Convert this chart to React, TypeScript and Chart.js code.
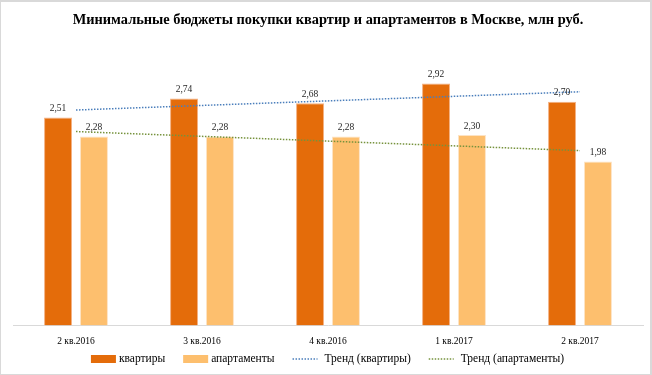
import React, { useEffect, useRef } from "react";
import { Chart, registerables } from "chart.js";

Chart.register(...registerables);

const categories = ["2 кв.2016", "3 кв.2016", "4 кв.2016", "1 кв.2017", "2 кв.2017"];
const flats = [2.51, 2.74, 2.68, 2.92, 2.7];
const apartments = [2.28, 2.28, 2.28, 2.3, 1.98];
// trend line end points
const trendFlats = [2.6, null, null, null, 2.82];
const trendApartments = [2.34, null, null, null, 2.11];

const TITLE = "Минимальные бюджеты покупки квартир и апартаментов в Москве, млн руб.";
const FONT = "'Liberation Serif', 'Times New Roman', serif";
const DOT = [1.5, 1.5];

const valueLabels = {
  id: "valueLabels",
  afterDatasetsDraw(chart: any) {
    const ctx = chart.ctx;
    ctx.save();
    ctx.font = `9.5px ${FONT}`;
    ctx.fillStyle = "#262626";
    ctx.textAlign = "center";
    ctx.textBaseline = "bottom";
    [0, 1].forEach((di) => {
      const meta = chart.getDatasetMeta(di);
      const data = chart.data.datasets[di].data as number[];
      meta.data.forEach((el: any, i: number) => {
        ctx.fillText(data[i].toFixed(2).replace(".", ","), el.x, el.y - 4);
      });
    });
    ctx.restore();
  },
};

const bottomLegend = {
  id: "bottomLegend",
  afterDraw(chart: any) {
    const ctx = chart.ctx;
    ctx.save();
    ctx.font = `11.5px ${FONT}`;
    ctx.textBaseline = "middle";
    ctx.textAlign = "left";
    const ds = chart.data.datasets;
    const items = ds.map((d: any) => {
      const isLine = d.type === "line";
      const gap = isLine ? 7 : 3;
      const tw = ctx.measureText(d.label).width;
      return { d, isLine, gap, tw, w: 25 + gap + tw };
    });
    const spacing = 18;
    const total = items.reduce((s: number, it: any) => s + it.w, 0) + spacing * (items.length - 1);
    let x = (chart.width - total) / 2 + 2;
    const y = chart.height - 15;
    items.forEach((it: any) => {
      if (it.isLine) {
        ctx.strokeStyle = it.d.borderColor;
        ctx.lineWidth = 1.5;
        ctx.setLineDash(DOT);
        ctx.beginPath();
        ctx.moveTo(x, y);
        ctx.lineTo(x + 25, y);
        ctx.stroke();
        ctx.setLineDash([]);
      } else {
        ctx.fillStyle = it.d.backgroundColor;
        ctx.fillRect(x, y - 4, 25, 8);
      }
      ctx.fillStyle = "#000000";
      ctx.fillText(it.d.label, x + 25 + it.gap, y);
      x += it.w + spacing;
    });
    ctx.restore();
  },
};

export default function App() {
  const ref = useRef<HTMLCanvasElement>(null);
  useEffect(() => {
    if (!ref.current) return;
    const chart = new Chart(ref.current, {
      type: "bar",
      data: {
        labels: categories,
        datasets: [
          {
            label: "квартиры",
            data: flats,
            backgroundColor: "#E46C0A",
            borderColor: "#F4B183",
            borderWidth: 1,
            categoryPercentage: 0.57,
            barPercentage: 0.78,
            order: 2,
          },
          {
            label: "апартаменты",
            data: apartments,
            backgroundColor: "#FDBF6E",
            borderColor: "#FDE3C4",
            borderWidth: 1,
            categoryPercentage: 0.57,
            barPercentage: 0.78,
            order: 2,
          },
          {
            type: "line",
            label: "Тренд (квартиры)",
            data: trendFlats as any,
            borderColor: "#4A7EBB",
            backgroundColor: "#4A7EBB",
            borderWidth: 1.5,
            borderDash: DOT,
            pointRadius: 0,
            spanGaps: true,
            order: 1,
          } as any,
          {
            type: "line",
            label: "Тренд (апартаменты)",
            data: trendApartments as any,
            borderColor: "#76923C",
            backgroundColor: "#76923C",
            borderWidth: 1.5,
            borderDash: DOT,
            pointRadius: 0,
            spanGaps: true,
            order: 1,
          } as any,
        ],
      },
      options: {
        animation: false,
        responsive: true,
        maintainAspectRatio: false,
        layout: { padding: { left: 12, right: 7, top: 0, bottom: 17 } },
        plugins: {
          title: {
            display: true,
            text: TITLE,
            color: "#000000",
            font: { family: FONT, size: 14.4, weight: "bold" },
            padding: { top: 9.5, bottom: 6.6 },
          },
          legend: { display: false },
          tooltip: { enabled: false },
        },
        scales: {
          x: {
            grid: { display: false, drawTicks: false },
            border: { display: true, color: "#D9D9D9", width: 1 },
            ticks: { color: "#000000", font: { family: FONT, size: 9.5 }, padding: 10 },
          },
          y: {
            min: 0,
            max: 3.5,
            display: false,
          },
        },
      },
      plugins: [valueLabels, bottomLegend],
    });
    return () => chart.destroy();
  }, []);
  return (
    <div
      style={{
        position: "fixed",
        left: 0,
        top: 0,
        width: 652,
        height: 375,
        boxSizing: "border-box",
        border: "1px solid #D9D9D9",
        borderTopWidth: 2,
        borderRightWidth: 2,
        background: "#fff",
      }}
    >
      <canvas ref={ref} />
    </div>
  );
}
